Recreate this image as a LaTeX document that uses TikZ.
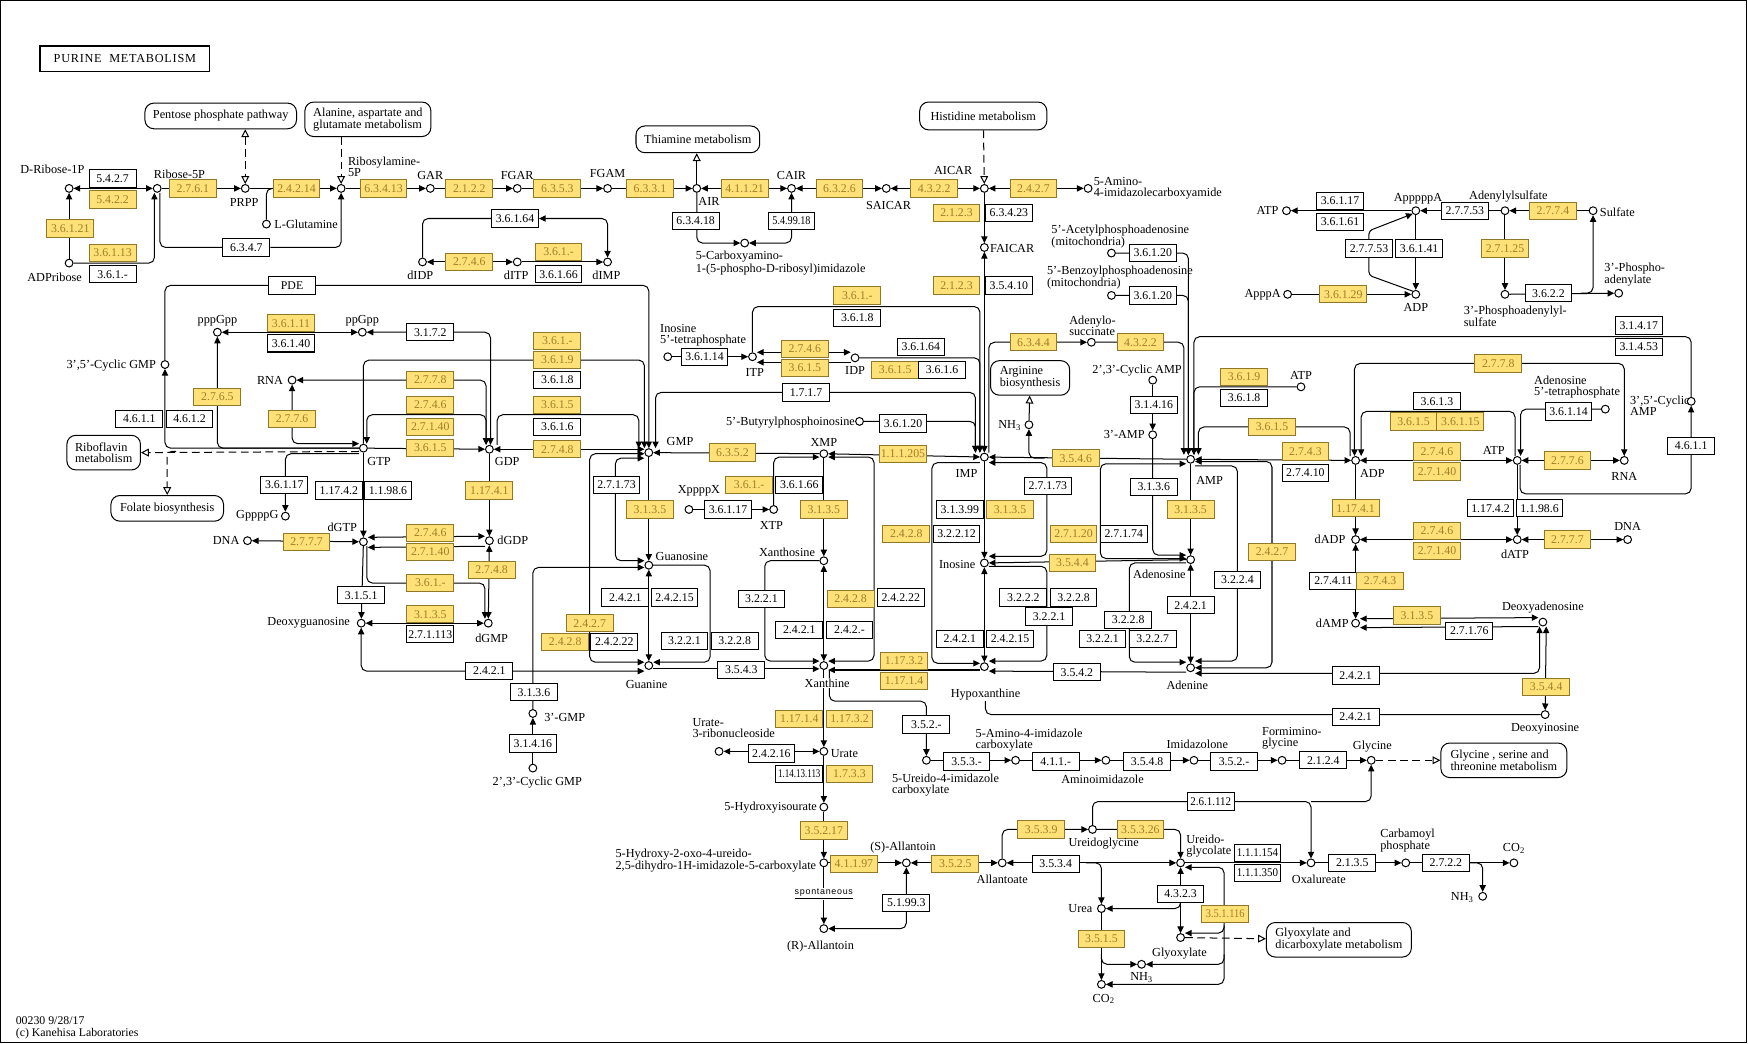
\documentclass[tikz,border=0pt]{standalone}
\usepackage{fontspec}
\setmainfont{Liberation Serif}
\setsansfont{Liberation Sans}
\usetikzlibrary{arrows.meta}
\pgfdeclarelayer{bg}
\pgfsetlayers{bg,main}
\definecolor{yfill}{RGB}{255,225,120}
\definecolor{ybord}{RGB}{145,120,38}
\definecolor{ytext}{RGB}{160,125,40}
\newcommand\ecfont{\fontsize{10.6}{11}\selectfont}
\newcommand\lbfont{\fontsize{11}{9.8}\selectfont}
\newcommand\sq[2]{\scalebox{#1}[1]{#2}}
\newcommand\EY[3]{\node[ecy] (#1) at (#2) {#3};}
\newcommand\EW[3]{\node[ecw] (#1) at (#2) {#3};}
\newcommand\CP[2]{\node[cpd] (#1) at (#2) {};}
\newcommand\LB[4]{\node[lbl,anchor=#2] (#1) at (#3) {#4};}
\newcommand\LBW[4]{\node[lbl,fill=white,inner sep=0.6pt,anchor=#2] (#1) at (#3) {#4};}
\tikzset{
  ecw/.style={draw=black,fill=white,line width=0.9pt,minimum width=42pt,minimum height=15.5pt,inner sep=0pt,font=\ecfont},
  ecy/.style={ecw,draw=ybord,fill=yfill,text=ytext},
  cpd/.style={circle,draw=black,fill=white,line width=0.9pt,minimum size=7pt,inner sep=0pt},
  mapbox/.style={draw=black,fill=white,line width=0.9pt,rounded corners=8pt,align=left,font=\lbfont,inner sep=2pt},
  lbl/.style={font=\lbfont,inner sep=0pt,align=left},
  ln/.style={line width=0.9pt},
  arr/.style={ln,-{Triangle[length=6pt,width=5.6pt]}},
  arr2/.style={ln,{Triangle[length=6pt,width=5.6pt]}-{Triangle[length=6pt,width=5.6pt]}},
  rarr/.style={ln,{Triangle[length=6pt,width=5.6pt]}-},
  rc/.style={rounded corners=5pt},
  dl/.style={ln,dash pattern=on 7pt off 4pt},
  opn/.style={-{Triangle[open,length=7pt,width=7pt]}},
  opn2/.style={{Triangle[open,length=7pt,width=7pt]}-{Triangle[open,length=7pt,width=7pt]}}
}
\begin{document}
\begin{tikzpicture}[x=1pt,y=-1pt]
\useasboundingbox (0,0) rectangle (1568,936);
\draw[line width=1.2pt] (0.6,0.6) rectangle (1566.4,935.4);
\node[draw,line width=1.5pt,minimum width=152pt,minimum height=23pt,inner sep=0pt,font=\lbfont\addfontfeature{LetterSpace=6}] (title) at (112,52.5) {PURINE\ \ METABOLISM};
% maps
\node[mapbox,minimum width=136pt,minimum height=23pt] (pentose) at (198,104) {Pentose phosphate pathway};
\node[mapbox,minimum width=113pt,minimum height=31pt] (alanine) at (330,107) {Alanine, aspartate and\\glutamate metabolism};
\node[mapbox,minimum width=111pt,minimum height=24pt] (thiamine) at (626,125) {Thiamine metabolism};
\node[mapbox,minimum width=114pt,minimum height=25pt] (histidine) at (882,104) {Histidine metabolism};
\node[mapbox,minimum width=66pt,minimum height=31pt] (riboflavin) at (93,406) {Riboflavin\\metabolism};
\node[mapbox,minimum width=101pt,minimum height=23pt] (folate) at (150,456) {Folate biosynthesis};
\node[mapbox,minimum width=71pt,minimum height=31pt] (arginine) at (924,339) {Arginine\\biosynthesis};
\node[mapbox,minimum width=113pt,minimum height=31pt] (glymap) at (1349,682) {Glycine , serine and\\threonine metabolism};
\node[mapbox,minimum width=130pt,minimum height=31pt] (glyoxmap) at (1201,843) {Glyoxylate and\\dicarboxylate metabolism};
% compounds
\CP{drib}{62,169}\CP{rib5p}{141,169}\CP{prpp}{220,169}\CP{lglu}{239,201}\CP{ribam}{306,169}
\CP{gar}{386,169}\CP{fgar}{464,169}\CP{fgam}{545,169}\CP{air}{625,169}\CP{cair}{710,169}
\CP{saicar}{795,169}\CP{aicar}{883,169}\CP{aica}{976,169}\CP{faicar}{883,222}\CP{adpr}{62,236}
\CP{caim}{668,218}\CP{didp}{379,235}\CP{ditp}{464,235}\CP{dimp}{545,235}
\CP{cgmp}{148,327}\CP{pppgpp}{195,298}\CP{ppgpp}{325,298}\CP{rnag}{262,341}\CP{gtp}{326,402}
\CP{gppppg}{256,463}\CP{dgtp}{326,486}\CP{dnag}{222,485}\CP{dguo}{324,559}\CP{gdp}{439,403}
\CP{dgdp}{439,485}\CP{dgmp}{438,559}\CP{gmp}{582,406}\CP{guo}{582,507}\CP{gua}{582,597}
\CP{gmp3}{478,640}\CP{cgmp23}{478,689}\CP{i5tp}{599,320}\CP{itp}{675,320}\CP{idp}{767,321}
\CP{butyr}{771,378}\CP{xpppx}{618,457}\CP{xtp}{694,457}\CP{xmp}{739,407}\CP{xao}{739,503}
\CP{xan}{739,597}\CP{imp}{883,410}\CP{ino}{883,505}\CP{hyp}{883,598}\CP{nh3a}{923,381}
\CP{amp}{1068,412}\CP{camp23}{1034,341}\CP{amp3}{1034,390}\CP{ado}{1068,502}\CP{ade}{1068,599}
\CP{atpa}{1167,347}\CP{acet}{997,227}\CP{benz}{997,265}\CP{adsucc}{979,307}
\CP{atp0}{1154,189}\CP{apppppa}{1270,189}\CP{adps}{1350,189}\CP{sulf}{1429,189}
\CP{paps}{1350,264}\CP{pap}{1452,263}\CP{adp0}{1270,264}\CP{apppa}{1155,264}
\CP{adp}{1216,413}\CP{atp}{1361,413}\CP{a5tp}{1440,367}\CP{rnaa}{1457,413}\CP{camp}{1517,360}
\CP{dadp}{1216,484}\CP{datp}{1361,484}\CP{dnaa}{1460,484}\CP{damp}{1216,559}\CP{dado}{1384,558}
\CP{dino}{1386,641}\CP{urate}{739,674}\CP{urr}{645,674}\CP{hiu}{739,724}\CP{ohcu}{739,774}
\CP{rall}{739,833}\CP{sall}{813,774}\CP{allt}{899,774}\CP{ureg}{980,744}\CP{ureido}{1059,774}
\CP{oxal}{1176,774}\CP{carb}{1261,774}\CP{co2a}{1358,774}\CP{nh3b}{1330,804}\CP{glyc}{1230,682}
\CP{formi}{1150,682}\CP{imidz}{1071,682}\CP{aminoim}{992,682}\CP{aicab}{911,682}\CP{uica}{831,682}
\CP{urea}{988,815}\CP{glyox}{1059,841}\CP{co2b}{988,883}\CP{nh3c}{1024,865}
% enzymes
\EW{e1}{101,160}{5.4.2.7}\EY{e2}{101,179}{5.4.2.2}\EY{e3}{173,169}{2.7.6.1}\EY{e4}{266,169}{2.4.2.14}
\EY{e5}{344,169}{6.3.4.13}\EY{e6}{421,169}{2.1.2.2}\EY{e7}{500,169}{6.3.5.3}\EY{e8}{583,169}{6.3.3.1}
\EY{e9}{668,169}{4.1.1.21}\EY{e10}{753,169}{6.3.2.6}\EY{e11}{838,169}{4.3.2.2}\EY{e12}{927,169}{2.4.2.7}
\EY{e13}{858,191}{2.1.2.3}\EW{e14}{905,191}{6.3.4.23}\EY{e15}{858,256}{2.1.2.3}\EW{e16}{905,256}{3.5.4.10}
\EY{e17}{63,205}{3.6.1.21}\EY{e18}{101,227}{3.6.1.13}\EW{e19}{101,246}{3.6.1.-}\EW{w6347}{221,222}{6.3.4.7}
\EW{e20}{624,198}{6.3.4.18}\EW{e21}{710,198}{\sq{0.86}{5.4.99.18}}\EW{w36164}{462,196}{3.6.1.64}
\EY{e22}{421,235}{2.7.4.6}\EY{e23}{501,226}{3.6.1.-}\EW{e24}{501,246}{3.6.1.66}
\EW{wpde}{262,256}{PDE}\EY{e25}{261,290}{3.6.1.11}\EW{e26}{261,308}{3.6.1.40}\EW{e27}{386,298}{3.1.7.2}
\EY{e28}{195,356}{2.7.6.5}\EW{e29}{125,376}{4.6.1.1}\EW{e30}{170,376}{4.6.1.2}\EY{e31}{262,376}{2.7.7.6}
\EY{e32}{386,341}{2.7.7.8}\EY{e33}{386,363}{2.7.4.6}\EY{e34}{386,383}{2.7.1.40}\EY{e35}{386,402}{3.6.1.5}
\EW{e36}{255,435}{3.6.1.17}\EW{e37}{304,440}{1.17.4.2}\EW{e38}{348,440}{1.1.98.6}\EY{e39}{275,486}{2.7.7.7}
\EY{e40}{386,478}{2.7.4.6}\EY{e41}{386,495}{2.7.1.40}\EY{e42}{439,440}{1.17.4.1}\EY{e43}{386,523}{3.6.1.-}
\EY{e44}{441,511}{2.7.4.8}\EW{e45}{324,534}{3.1.5.1}\EY{e46}{386,551}{3.1.3.5}\EW{e47}{386,569}{2.7.1.113}
\EW{e48}{439,602}{2.4.2.1}\EY{e49}{500,306}{3.6.1.-}\EY{e50}{500,323}{3.6.1.9}\EW{e51}{500,341}{3.6.1.8}
\EY{e52}{500,363}{3.6.1.5}\EW{e53}{500,383}{3.6.1.6}\EY{e54}{500,403}{2.7.4.8}\EW{e55}{553,435}{2.7.1.73}
\EY{e56}{583,457}{3.1.3.5}\EW{e57}{561,536}{2.4.2.1}\EW{e58}{605,536}{2.4.2.15}\EW{e59}{614,575}{3.2.2.1}
\EW{e60}{659,575}{3.2.2.8}\EY{e61}{529,559}{2.4.2.7}\EY{e62}{507,576}{2.4.2.8}\EW{e63}{551,576}{2.4.2.22}
\EW{e64}{479,621}{3.1.3.6}\EW{e65}{478,667}{3.1.4.16}\EW{e66}{665,601}{3.5.4.3}\EW{e67}{632,320}{3.6.1.14}
\EY{e68}{722,313}{2.7.4.6}\EY{e69}{722,330}{3.6.1.5}\EY{e70}{769,265}{3.6.1.-}\EW{e71}{769,285}{3.6.1.8}
\EW{e72}{826,311}{3.6.1.64}\EY{e73}{803,332}{3.6.1.5}\EW{e74}{845,332}{3.6.1.6}\EW{e75}{723,352}{1.7.1.7}
\EW{e76}{810,380}{3.6.1.20}\EY{e77}{657,406}{6.3.5.2}\EY{e78}{672,435}{3.6.1.-}\EW{e79}{717,435}{3.6.1.66}
\EW{e80}{653,457}{3.6.1.17}\EY{e81}{739,457}{3.1.3.5}\EW{e82}{683,537}{3.2.2.1}\EY{e83}{763,537}{2.4.2.8}
\EW{e84}{808,536}{2.4.2.22}\EW{e85}{717,565}{2.4.2.1}\EW{e86}{762,565}{2.4.2.-}\EY{e87}{810,407}{1.1.1.205}
\EY{e88}{813,479}{2.4.2.8}\EW{e89}{858,479}{3.2.2.12}\EW{e90}{861,457}{3.1.3.99}\EY{e91}{906,457}{3.1.3.5}
\EW{e92}{940,436}{2.7.1.73}\EY{e93}{965,411}{3.5.4.6}\EY{e94}{963,479}{2.7.1.20}\EW{e95}{1008,479}{2.7.1.74}
\EY{e96}{962,505}{3.5.4.4}\EW{e97}{918,536}{3.2.2.2}\EW{e98}{963,536}{3.2.2.8}\EW{e99}{941,553}{3.2.2.1}
\EW{e100}{861,573}{2.4.2.1}\EW{e101}{906,573}{2.4.2.15}\EY{e102}{811,593}{1.17.3.2}\EY{e103}{811,611}{1.17.1.4}
\EW{e104}{966,603}{3.5.4.2}\EY{e105}{927,307}{6.3.4.4}\EY{e106}{1023,307}{4.3.2.2}\EW{e107}{1034,227}{3.6.1.20}
\EW{e108}{1034,265}{3.6.1.20}\EW{e109}{1035,363}{3.1.4.16}\EW{e110}{1035,437}{3.1.3.6}\EY{e111}{1068,457}{3.1.3.5}
\EW{e112}{1068,543}{2.4.2.1}\EW{e113}{1012,556}{3.2.2.8}\EW{e114}{989,573}{3.2.2.1}\EW{e115}{1034,573}{3.2.2.7}
\EW{e116}{1110,520}{3.2.2.4}\EY{e117}{1141,495}{2.4.2.7}\EY{e118}{1116,338}{3.6.1.9}\EW{e119}{1116,357}{3.6.1.8}
\EY{e120}{1141,383}{3.6.1.5}\EY{e121}{1171,405}{2.7.4.3}\EW{e122}{1171,424}{2.7.4.10}
\EW{e123}{1202,180}{3.6.1.17}\EW{e124}{1202,199}{3.6.1.61}\EW{e125}{1314,189}{2.7.7.53}\EY{e126}{1393,189}{2.7.7.4}
\EY{e127}{1350,223}{2.7.1.25}\EW{e128}{1389,263}{3.6.2.2}\EW{e129}{1273,223}{3.6.1.41}\EW{e130}{1228,223}{2.7.7.53}
\EY{e131}{1205,264}{3.6.1.29}\EY{e132}{1344,326}{2.7.7.8}\EW{e133}{1289,360}{3.6.1.3}\EY{e134}{1268,378}{3.6.1.5}
\EY{e135}{1310,378}{3.6.1.15}\EW{e136}{1407,369}{3.6.1.14}\EY{e137}{1289,405}{2.7.4.6}\EY{e138}{1289,423}{2.7.1.40}
\EY{e139}{1406,413}{2.7.7.6}\EW{e140}{1470,292}{3.1.4.17}\EW{e141}{1470,311}{3.1.4.53}\EW{e142}{1517,400}{4.6.1.1}
\EY{e143}{1216,456}{1.17.4.1}\EW{e144}{1337,456}{1.17.4.2}\EW{e145}{1381,456}{1.1.98.6}\EY{e146}{1289,476}{2.7.4.6}
\EY{e147}{1289,494}{2.7.1.40}\EY{e148}{1406,484}{2.7.7.7}\EW{e149}{1196,521}{2.7.4.11}\EY{e150}{1238,521}{2.7.4.3}
\EY{e151}{1271,552}{3.1.3.5}\EW{e152}{1318,566}{2.7.1.76}\EW{e153}{1216,606}{2.4.2.1}\EY{e154}{1387,616}{3.5.4.4}
\EW{e155}{1216,643}{2.4.2.1}\EY{e156}{717,645}{1.17.1.4}\EY{e157}{762,645}{1.17.3.2}\EW{e158}{692,676}{2.4.2.16}
\EW{e159}{717,694}{\sq{0.76}{1.14.13.113}}\EY{e160}{762,694}{1.7.3.3}\EY{e161}{739,745}{3.5.2.17}\EY{e162}{766,775}{4.1.1.97}
\EW{e163}{813,810}{5.1.99.3}\EY{e164}{857,775}{3.5.2.5}\EY{e165}{934,744}{3.5.3.9}\EY{e166}{1023,744}{3.5.3.26}
\EW{w26112}{1086,719}{\sq{0.93}{2.6.1.112}}\EW{e167}{947,775}{3.5.3.4}\EW{e168}{1128,765}{\sq{0.93}{1.1.1.154}}
\EW{e169}{1128,783}{\sq{0.93}{1.1.1.350}}\EW{e170}{1213,774}{2.1.3.5}\EW{e171}{1297,774}{2.7.2.2}\EW{e172}{1187,682}{2.1.2.4}
\EW{e173}{1107,683}{3.5.2.-}\EW{e174}{1029,683}{3.5.4.8}\EW{e175}{947,683}{4.1.1.-}\EW{e176}{867,683}{3.5.3.-}
\EW{e177}{831,650}{3.5.2.-}\EW{e178}{1059,802}{4.3.2.3}\EY{e179}{1099,820}{\sq{0.88}{3.5.1.116}}\EY{e180}{988,842}{3.5.1.5}
% labels
\LB{tdrib}{center}{47,152}{D-Ribose-1P}
\LB{trib}{center}{161,156}{Ribose-5P}
\LB{tprpp}{center}{219,182}{PRPP}
\LB{tlglu}{west}{246,201}{L-Glutamine}
\LB{tribam}{west}{312,150}{Ribosylamine-\\5P}
\LB{tgar}{center}{386,157}{GAR}
\LB{tfgar}{center}{464,157}{FGAR}
\LB{tfgam}{center}{545,156}{FGAM}
\LB{tair}{center}{636,181}{AIR}
\LB{tcair}{center}{710,157}{CAIR}
\LB{tsaicar}{center}{797,184}{SAICAR}
\LB{taicar}{center}{855,153}{AICAR}
\LB{taica}{west}{981,169}{5-Amino-\\4-imidazolecarboxyamide}
\LB{tfaicar}{west}{888,223}{FAICAR}
\LB{tadpr}{center}{49,249}{ADPribose}
\LB{tcaim}{west}{624,236}{5-Carboxyamino-\\1-(5-phospho-D-ribosyl)imidazole}
\LB{tdidp}{center}{377,247}{dIDP}
\LB{tditp}{center}{463,247}{dITP}
\LB{tdimp}{center}{544,247}{dIMP}
\LB{tcgmp}{east}{140,328}{3',5'-Cyclic GMP}
\LB{tpppgpp}{center}{195,288}{pppGpp}
\LB{tppgpp}{center}{325,288}{ppGpp}
\LB{trnag}{east}{254,341}{RNA}
\LB{tgtp}{center}{340,414}{GTP}
\LB{tgppppg}{east}{250,463}{GppppG}
\LB{tdgtp}{center}{307,473}{dGTP}
\LB{tdnag}{east}{215,485}{DNA}
\LB{tdguo}{east}{314,559}{Deoxyguanosine}
\LB{tgdp}{center}{455,414}{GDP}
\LB{tdgdp}{west}{446,485}{dGDP}
\LB{tdgmp}{center}{441,573}{dGMP}
\LB{tgmp}{center}{610,396}{GMP}
\LB{tguo}{west}{588,499}{Guanosine}
\LB{tgua}{center}{580,614}{Guanine}
\LB{tgmp3}{west}{488,644}{3'-GMP}
\LB{tcgmp23}{center}{482,702}{2',3'-Cyclic GMP}
\LB{ti5tp}{west}{592,301}{Inosine\\5'-tetraphosphate}
\LB{titp}{center}{677,334}{ITP}
\LB{tidp}{center}{767,332}{IDP}
\LB{tbutyr}{east}{767,379}{5'-Butyrylphosphoinosine}
\LB{txpppx}{center}{627,440}{XppppX}
\LB{txtp}{center}{692,471}{XTP}
\LB{txmp}{center}{739,397}{XMP}
\LB{txao}{center}{706,495}{Xanthosine}
\LBW{txan}{center}{742,613}{Xanthine}
\LB{timp}{center}{867,425}{IMP}
\LB{tino}{east}{875,506}{Inosine}
\LBW{thyp}{center}{884,623}{Hypoxanthine}
\LB{tnh3a}{east}{916,382}{NH\textsubscript{3}}
\LB{tcamp23}{center}{1020,332}{2',3'-Cyclic AMP}
\LB{tamp3}{east}{1027,390}{3'-AMP}
\LB{tamp}{center}{1085,431}{AMP}
\LB{tado}{center}{1040,515}{Adenosine}
\LB{tade}{center}{1065,615}{Adenine}
\LB{tatpa}{center}{1167,337}{ATP}
\LB{tacet}{west}{943,212}{5'-Acetylphosphoadenosine\\(mitochondria)}
\LB{tbenz}{west}{939,249}{5'-Benzoylphosphoadenosine\\(mitochondria)}
\LB{tadsucc}{west}{959,292}{Adenylo-\\succinate}
\LB{tatp0}{east}{1147,189}{ATP}
\LB{tapppppa}{center}{1272,178}{ApppppA}
\LB{tadps}{center}{1353,176}{Adenylylsulfate}
\LB{tsulf}{west}{1435,190}{Sulfate}
\LB{tpaps}{west}{1313,284}{3'-Phosphoadenylyl-\\sulfate}
\LB{tpap}{west}{1439,246}{3'-Phospho-\\adenylate}
\LB{tadp0}{center}{1270,276}{ADP}
\LB{tapppa}{east}{1149,264}{ApppA}
\LB{tadp}{center}{1231,425}{ADP}
\LB{tatp}{center}{1340,404}{ATP}
\LB{ta5tp}{west}{1376,347}{Adenosine\\5'-tetraphosphate}
\LB{trnaa}{center}{1457,427}{RNA}
\LB{tcamp}{west}{1462,364}{3',5'-Cyclic\\AMP}
\LB{tdadp}{east}{1207,484}{dADP}
\LB{tdatp}{center}{1359,497}{dATP}
\LB{tdnaa}{center}{1460,472}{DNA}
\LB{tdamp}{east}{1210,559}{dAMP}
\LB{tdado}{center}{1384,545}{Deoxyadenosine}
\LB{tdino}{center}{1386,654}{Deoxyinosine}
\LB{turr}{west}{621,653}{Urate-\\3-ribonucleoside}
\LB{turate}{west}{745,676}{Urate}
\LB{thiu}{east}{733,724}{5-Hydroxyisourate}
\LB{tohcu}{west}{552,772}{5-Hydroxy-2-oxo-4-ureido-\\2,5-dihydro-1H-imidazole-5-carboxylate}
\LB{trall}{center}{736,849}{(R)-Allantoin}
\LB{tsall}{center}{810,760}{(S)-Allantoin}
\LB{tallt}{center}{899,789}{Allantoate}
\LB{tureg}{center}{990,757}{Ureidoglycine}
\LB{tureido}{west}{1064,759}{Ureido-\\glycolate}
\LB{toxal}{center}{1183,789}{Oxalureate}
\LB{tcarb}{west}{1238,754}{Carbamoyl\\phosphate}
\LB{tco2a}{center}{1358,761}{CO\textsubscript{2}}
\LB{tnh3b}{east}{1322,805}{NH\textsubscript{3}}
\LB{tglyc}{center}{1231,670}{Glycine}
\LB{tformi}{west}{1132,662}{Formimino-\\glycine}
\LB{timidz}{center}{1074,668}{Imidazolone}
\LB{taminoim}{center}{989,699}{Aminoimidazole}
\LB{taicab}{west}{875,664}{5-Amino-4-imidazole\\carboxylate}
\LB{tuica}{west}{800,704}{5-Ureido-4-imidazole\\carboxylate}
\LB{turea}{east}{980,815}{Urea}
\LB{tglyox}{center}{1058,855}{Glyoxylate}
\LB{tco2b}{center}{990,896}{CO\textsubscript{2}}
\LB{tnh3c}{center}{1024,877}{NH\textsubscript{3}}
\node[font=\sffamily\fontsize{8}{9}\selectfont\addfontfeature{LetterSpace=8},fill=white,inner sep=1pt] (spont) at (739,802) {\underline{spontaneous}};
\node[lbl,font=\fontsize{10.6}{10}\selectfont,anchor=west] (foot) at (14,922) {00230 9/28/17\\(c) Kanehisa Laboratories};
% connectors
\begin{pgfonlayer}{bg}
\fill[white] (0,0) rectangle (1568,936);
\coordinate (jglu) at (252,169);
\coordinate (jnh) at (937,411);
\coordinate (jpap) at (1418,263);
\coordinate (jgly) at (1176,719);
\coordinate (jurea) at (974,774);
\coordinate (jurea2) at (1059,808);
\coordinate (jgo) at (1098,830);
\coordinate (jnh3) at (1098,856);
\coordinate (jnh3u) at (988,856);
\coordinate (jcp) at (1318,774);
% top row
\draw[arr2] (drib) -- (rib5p);
\draw[arr] (rib5p) -- (prpp);
\draw[arr] (prpp) -- (ribam);
\draw[ln,rc] (lglu) |- (jglu);
\draw[arr] (ribam) -- (gar);
\draw[arr] (gar) -- (fgar);
\draw[arr] (fgar) -- (fgam);
\draw[arr] (fgam) -- (air);
\draw[arr2] (air) -- (cair);
\draw[arr2] (cair) -- (saicar);
\draw[arr2] (saicar) -- (aicar);
\draw[arr2] (aicar) -- (aica);
\draw[dl,opn2] (prpp |- pentose.south) -- (prpp);
\draw[dl,opn] (ribam |- alanine.south) -- (ribam);
\draw[ln,opn] (air) -- (air |- thiamine.south);
\draw[dl,opn] (histidine) -- (aicar);
\draw[arr] (aicar) -- (faicar);
\draw[arr2] (imp) -- (faicar);
\draw[arr] (adpr) -- (drib);
\draw[arr,rc] (adpr) -| ([xshift=-2.5pt]rib5p.south);
\draw[arr,rc] ([xshift=2.5pt]rib5p.south) |- (w6347) -| (ribam);
\draw[arr,rc] (air) |- (caim);
\draw[arr2,rc] (caim) -| (cair);
\draw[arr2] (didp) -- (ditp);
\draw[arr] (ditp) -- (dimp);
\draw[arr2,rc] (didp) |- (w36164) -| (dimp);
% guanine branch
\draw[arr,rc] (cgmp) |- (wpde) -| (gmp);
\draw[arr2] (pppgpp) -- (ppgpp);
\draw[arr2,rc] (ppgpp) -| ([xshift=1pt]gdp.north);
\draw[arr2,rc] (rnag) -| ([xshift=-3pt]gdp.north);
\draw[arr2,rc] ([xshift=3pt]gtp.north) |- (436,372) -- ([xshift=-3pt]gdp.north);
\draw[arr,rc] (gtp.west) -| (cgmp);
\draw[arr,rc] (gtp.west) -| (pppgpp);
\draw[dl,opn] ([yshift=-3pt]gtp.west) -- (riboflavin.east);
\draw[dl,opn,rounded corners=4pt] (158,405) -| (folate.north);
\draw[arr2,rc] (rnag) |- ([yshift=4pt]gtp.west);
\draw[arr,rc] ([yshift=-5pt]gtp.west) -| (gppppg);
\draw[arr] (gtp) -- (dgtp);
\draw[arr2] (dnag) -- (dgtp);
\draw[arr] (gtp) -- (gdp);
\draw[arr] (gdp) -- (dgdp);
\draw[arr2] ([yshift=4pt]dgtp.east) -- ([yshift=4pt]dgdp.west);
\draw[rarr] ([yshift=-5pt]dgtp.east) -- ([yshift=-5pt]dgdp.west);
\draw[arr,rc] ([xshift=3pt]dgtp.south) |- (435,523) -- ([xshift=-3pt]dgmp.north);
\draw[arr2] (dgdp) -- (dgmp);
\draw[arr] (dgtp) -- (dguo);
\draw[arr2] (dguo) -- (dgmp);
\draw[arr2,rc] (dguo) |- ([yshift=-5pt]gua.west);
\draw[arr,rc] (gtp.north) |- (578,323) -- ([xshift=-4pt]gmp.north);
\draw[arr,rc] ([xshift=7pt]gdp.north) |- (573,372) -- ([xshift=-9pt]gmp.north);
\draw[arr2] (gdp) -- ([yshift=3pt]gmp.west);
\draw[arr2,rc] ([xshift=6pt]gmp.north) |- (875,352) -- ([xshift=-8pt]imp.north);
\draw[arr] (xmp) -- (gmp);
\draw[arr] (gmp) -- (guo);
\draw[arr2,rc] ([yshift=-5pt]gmp.west) -- (552,411) -- (552,503) -- ([yshift=4pt]guo.west);
\draw[arr2,rc] ([yshift=-1pt]gmp.west) -- (529,407) -- (529,594) -- ([yshift=3pt]gua.west);
\draw[arr2] (guo) -- (gua);
\draw[arr,rc] (guo.east) -- (637,507) -- (637,594) -- ([yshift=3pt]gua.east);
\draw[arr,rc] (gmp3) |- ([yshift=-2pt]guo.west);
\draw[arr] (cgmp23) -- (gmp3);
\draw[arr] ([yshift=-3pt]gua.east) -- ([yshift=-3pt]xan.west);
% xanthine / inosine
\draw[arr] (i5tp) -- (itp);
\draw[arr2] ([yshift=4pt]itp.east) -- ([yshift=5pt]idp.west);
\draw[rarr] ([yshift=-5pt]itp.east) -- ([yshift=-4pt]idp.west);
\draw[arr,rc] (itp) |- (879,275) -- ([xshift=-4pt]imp.north);
\draw[arr,rc] (idp) -| ([xshift=-4pt]imp.north);
\draw[arr,rc] (butyr) -| ([xshift=-8pt]imp.north);
\draw[arr] (xpppx) -- (xtp);
\draw[arr,rc] (xtp) |- ([yshift=-3pt]xmp.west);
\draw[arr] (xmp) -- (xao);
\draw[arr2] (xao) -- (xan);
\draw[arr,rc] (xao.west) -- (686,503) -- (686,593) -- ([yshift=4pt]xan.west);
\draw[arr2,rc] ([yshift=-3pt]xmp.east) -- (784,410) -- (784,593) -- ([yshift=4pt]xan.east);
\draw[arr2] (xmp) -- (imp);
\draw[arr,rc] ([xshift=4pt]imp.north) |- (adsucc);
\draw[arr] (imp) -- (ino);
\draw[arr2,rc] ([yshift=-5pt]imp.east) -- (939,415) -- (939,499) -- ([yshift=6pt]ino.east);
\draw[arr] (amp) -- (imp);
\draw[arr,rc] (jnh) -| (nh3a);
\draw[ln,opn] (nh3a) -- (arginine);
\draw[arr2] (ino) -- (hyp);
\draw[arr] (ado) -- (ino);
\draw[arr,rc] ([yshift=-3pt]ino.east) -- (939,508) -- (939,593) -- ([yshift=5pt]hyp.east);
\draw[arr,rc] ([yshift=-5pt]imp.west) -- (836,415) -- (836,595) -- ([yshift=3pt]hyp.west);
\draw[arr] ([yshift=-3pt]hyp.west) -- ([yshift=-4pt]xan.east);
\draw[arr] ([yshift=-4pt]ade.west) -- ([yshift=-4pt]hyp.east);
\draw[ln,rc] (thyp.south) |- (dino);
% adenine branch
\draw[arr,rc] (amp3) |- ([yshift=4pt]ado.west);
\draw[arr] (camp23) -- (amp3);
\draw[arr] (amp) -- (ado);
\draw[arr2,rc] ([yshift=-4pt]amp.west) -- (987,416) -- (987,501) -- ([yshift=1pt]ado.west);
\draw[arr2] (ado) -- (ade);
\draw[arr,rc] ([yshift=-3pt]ado.west) -- (1013,505) -- (1013,594) -- ([yshift=5pt]ade.west);
\draw[arr,rc] ([yshift=-6pt]amp.east) -- (1110,418) -- (1110,593) -- ([yshift=6pt]ade.east);
\draw[arr2,rc] ([yshift=-2pt]amp.east) -- (1141,414) -- (1141,599) -- (ade.east);
\draw[arr2] (amp) -- (adp);
\draw[arr2,rc] ([yshift=-5pt]ade.east) -| ([xshift=-3pt]dado.south);
\draw[arr,rc] (acet) -| ([xshift=-2pt]amp.north);
\draw[arr,rc] (benz) -| ([xshift=-2pt]amp.north);
\draw[arr,rc] (adsucc) -| ([xshift=-6pt]amp.north);
\draw[arr,rc] (camp) |- (1071,302) -- ([xshift=3pt]amp.north);
\draw[arr,rc] (atpa) -| ([xshift=3pt]amp.north);
\draw[arr,rc] ([xshift=-5pt]adp.north) |- (1075,383) -- ([xshift=7pt]amp.north);
\draw[arr2] (adp) -- (atp);
\draw[arr2,rc] ([xshift=-1pt]adp.north) |- (1344,326) -| (rnaa);
\draw[arr,rc] ([xshift=-2pt]atp.north) |- (1221,369) -- ([xshift=5pt]adp.north);
\draw[arr,rc] (a5tp) -| ([xshift=3pt]atp.north);
\draw[arr2] (atp) -- (rnaa);
\draw[arr,rc] ([xshift=2.5pt]atp.south) |- (1517,443) -- (camp);
\draw[arr] (atp) -- (datp);
\draw[arr] (adp) -- (dadp);
\draw[arr2] (dadp) -- (datp);
\draw[arr2] (datp) -- (dnaa);
\draw[arr2] (dadp) -- (damp);
\draw[arr2] ([yshift=4pt]damp.east) -- ([yshift=4pt]dado.west);
\draw[rarr] ([yshift=-4pt]damp.east) -- ([yshift=-4pt]dado.west);
\draw[arr2] ([xshift=3pt]dado.south) -- (dino);
\draw[arr] (apppppa) -- (atp0);
\draw[arr] (adps) -- (apppppa);
\draw[arr] (sulf) -- (adps);
\draw[arr] (adps) -- (paps);
\draw[arr] (paps) -- (pap);
\draw[arr,rc] (jpap) -| (sulf);
\draw[arr] (apppppa) -- (adp0);
\draw[arr] (apppa) -- (adp0);
\draw[arr,rounded corners=3pt] (adp0.north west) -- (1228,247) -- (1228,207) -- (apppppa.south west);
% urate branch
\draw[arr] (xan) -- (urate);
\draw[arr,rc] ([xshift=5pt]xan.south) |- (831,629) -- (uica);
\draw[arr2] (urr) -- (urate);
\draw[arr] (urate) -- (hiu);
\draw[arr] (hiu) -- (ohcu);
\draw[arr] (ohcu) -- (sall);
\draw[arr] (ohcu) -- (rall);
\draw[arr2,rc] (sall) |- (rall);
\draw[arr2] (sall) -- (allt);
\draw[arr,rc] (allt) |- (ureg);
\draw[arr,rc] (ureg) -| (ureido);
\draw[arr,rc] (ureg) |- (w26112) -| (oxal);
\draw[arr,rc] (jgly) -| (glyc);
\draw[arr2] (allt) -- (ureido);
\draw[arr,rc] (jurea) -| (urea);
\draw[arr] (ureido) -- (oxal);
\draw[arr2] (ureido) -- (glyox);
\draw[arr,rc] (jurea2) |- (urea);
\draw[arr2,rc] ([yshift=-4pt]ureido.east) -- (1098,778) -- (1098,883) -- (co2b);
\draw[arr,rc] (jgo) |- ([yshift=4pt]glyox.east);
\draw[arr,rc] (jnh3) |- (nh3c);
\draw[dl,opn] (glyox) -- (glyoxmap);
\draw[arr] (urea) -- (co2b);
\draw[arr,rc] (jnh3u) |- (nh3c);
\draw[arr] (oxal) -- (carb);
\draw[arr] (carb) -- (co2a);
\draw[arr,rc] (jcp) -| (nh3b);
\draw[arr] (uica) -- (aicab);
\draw[arr] (aicab) -- (aminoim);
\draw[arr] (aminoim) -- (imidz);
\draw[arr] (imidz) -- (formi);
\draw[arr] (formi) -- (glyc);
\draw[dl,opn] (glyc) -- (glymap);
\end{pgfonlayer}
\end{tikzpicture}
\end{document}
